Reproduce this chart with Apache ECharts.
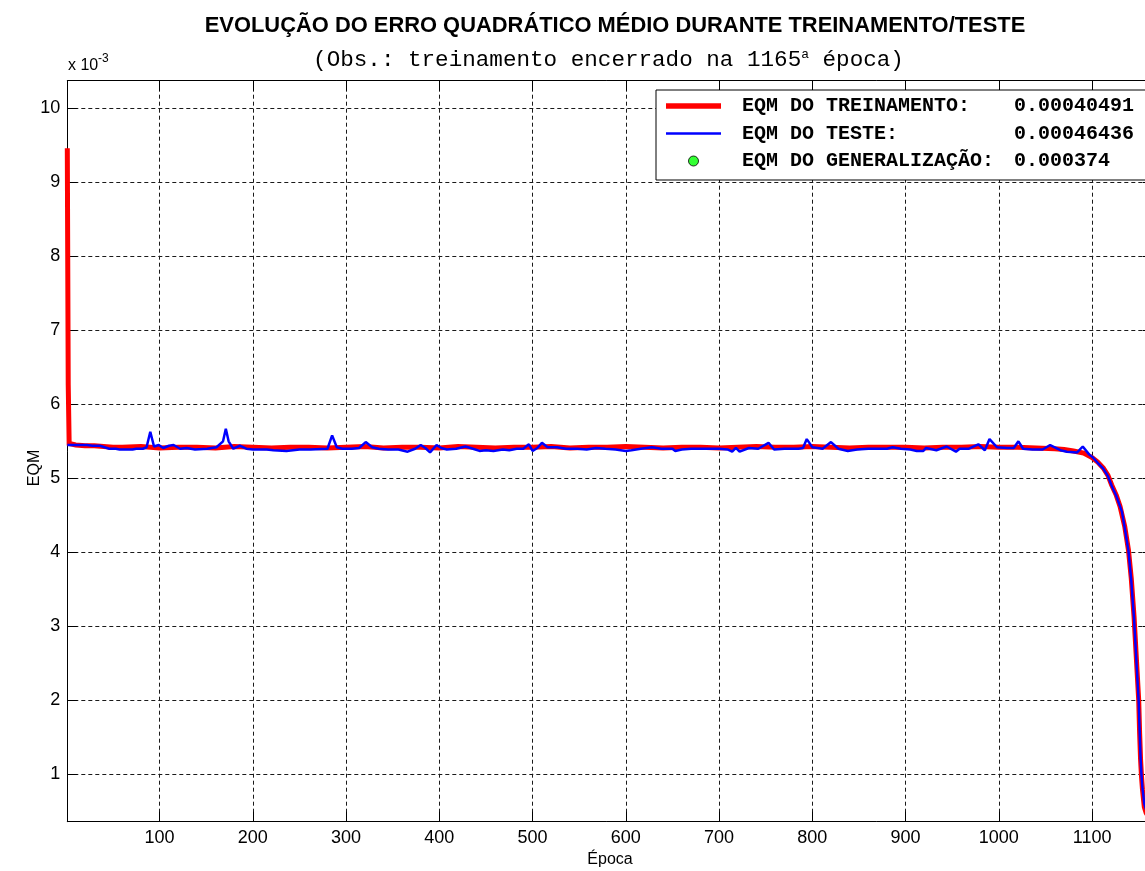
<!DOCTYPE html>
<html>
<head>
<meta charset="utf-8">
<title>Evolução do EQM</title>
<script src="https://cdn.jsdelivr.net/npm/echarts@6/dist/echarts.min.js"></script>
<style>
  html, body { margin: 0; padding: 0; background: #ffffff; overflow: hidden; }
  #chart { width: 1145px; height: 871px; }
</style>
</head>
<body>
<div id="chart"></div>
<script>
// Valores de EQM em unidades de 10^-3 (o eixo mostra "x 10^-3").
const epocaFinal = 1165;

const epocasTreino = [
  1, 2, 3, 5, 10, 20, 30, 40, 50,
  60, 80, 100, 120, 140, 160, 180, 200, 220, 240, 260, 280, 300, 320, 340, 360, 380, 400,
  420, 440, 460, 480, 500, 520, 540, 560, 580, 600, 620, 640, 660, 680, 700, 720, 740, 760,
  780, 800, 820, 840, 860, 880, 900, 920, 940, 960, 980, 1000, 1020, 1040, 1060,
  1070, 1080, 1091, 1100, 1106, 1112, 1117, 1121, 1126, 1130, 1135, 1139, 1142, 1145, 1148,
  1150, 1151, 1152, 1153, 1154, 1156, 1158, 1160, 1165
];
const eqmTreino = [
  9.46, 6.26, 5.47, 5.46, 5.45, 5.44, 5.44, 5.43, 5.42,
  5.42, 5.43, 5.41, 5.42, 5.42, 5.41, 5.43, 5.42, 5.41, 5.42, 5.42, 5.41, 5.42, 5.43, 5.41, 5.42, 5.42, 5.41,
  5.43, 5.42, 5.41, 5.42, 5.42, 5.43, 5.41, 5.42, 5.42, 5.43, 5.42, 5.41, 5.42, 5.42, 5.41, 5.42, 5.43, 5.42,
  5.42, 5.43, 5.42, 5.41, 5.42, 5.42, 5.42, 5.41, 5.42, 5.42, 5.43, 5.42, 5.42, 5.41, 5.40,
  5.39, 5.37, 5.34, 5.28, 5.22, 5.14, 5.04, 4.91, 4.77, 4.62, 4.35, 4.03, 3.65, 3.13, 2.45,
  2.00, 1.55, 1.20, 0.97, 0.80, 0.56, 0.48, 0.44, 0.40491
];

const epocasTeste = [
  1, 10, 22, 28, 36, 46, 53, 57, 71, 75, 82, 86, 90, 94, 99, 104, 110, 115, 122, 129,
  138, 151, 161, 168, 171, 174, 179, 186, 193, 200, 215, 222, 236, 250, 262, 280, 285, 290, 296, 306,
  314, 321, 328, 335, 345, 356, 366, 374, 380, 385, 390, 397, 402, 408, 418, 428, 436, 443, 450, 458,
  468, 475, 483, 490, 496, 500, 505, 510, 516, 526, 536, 548, 558, 568, 578, 589, 600, 606, 616, 628,
  638, 650, 653, 660, 670, 680, 700, 709, 714, 718, 722, 732, 742, 753, 759, 770, 785, 790, 794, 800,
  811, 820, 828, 838, 848, 860, 880, 886, 895, 905, 912, 919, 922, 933, 944, 954, 958, 968, 978, 985,
  990, 998, 1009, 1016, 1021, 1026, 1036, 1047, 1055, 1066, 1073, 1084, 1090, 1097, 1101, 1106, 1112, 1117, 1121, 1126,
  1130, 1132, 1135, 1139, 1142, 1145, 1148, 1150, 1151, 1152, 1153, 1154, 1156, 1158, 1160, 1165
];
const eqmTeste = [
  5.45, 5.45, 5.45, 5.44, 5.44, 5.40, 5.40, 5.39, 5.39, 5.40, 5.40, 5.42, 5.63, 5.43, 5.45, 5.41, 5.44, 5.45, 5.40, 5.41,
  5.39, 5.40, 5.42, 5.50, 5.67, 5.50, 5.40, 5.44, 5.40, 5.39, 5.39, 5.38, 5.37, 5.39, 5.39, 5.40, 5.58, 5.42, 5.40, 5.40,
  5.41, 5.49, 5.42, 5.40, 5.39, 5.39, 5.36, 5.40, 5.45, 5.41, 5.35, 5.45, 5.41, 5.39, 5.40, 5.43, 5.40, 5.37, 5.38, 5.37,
  5.39, 5.38, 5.40, 5.40, 5.46, 5.37, 5.41, 5.48, 5.42, 5.42, 5.40, 5.40, 5.39, 5.41, 5.40, 5.39, 5.37, 5.38, 5.40, 5.42,
  5.40, 5.40, 5.37, 5.39, 5.40, 5.40, 5.40, 5.39, 5.36, 5.41, 5.36, 5.41, 5.40, 5.48, 5.39, 5.40, 5.40, 5.41, 5.53, 5.42,
  5.40, 5.49, 5.40, 5.37, 5.39, 5.40, 5.40, 5.42, 5.40, 5.39, 5.37, 5.37, 5.41, 5.38, 5.43, 5.36, 5.40, 5.40, 5.46, 5.38,
  5.53, 5.42, 5.41, 5.41, 5.50, 5.40, 5.39, 5.39, 5.45, 5.38, 5.36, 5.35, 5.43, 5.32, 5.28, 5.21, 5.13, 5.03, 4.90, 4.76,
  4.62, 4.55, 4.33, 4.02, 3.62, 3.10, 2.42, 1.98, 1.58, 1.22, 0.98, 0.82, 0.60, 0.52, 0.49, 0.46436
];

const epocaGeneralizacao = [1165];
const eqmGeneralizacao = [0.374];

const nomeTreino = 'EQM DO TREINAMENTO:';
const nomeTeste = 'EQM DO TESTE:';
const nomeGeneralizacao = 'EQM DO GENERALIZAÇÃO:';

const ESCALA = 1e-3;
const SANS = "'Liberation Sans Narrow', 'Liberation Sans', Arial, sans-serif";
const SANS_REG = "'Liberation Sans', Arial, sans-serif";
const MONO = "'Liberation Mono', 'Courier New', monospace";

function pares(xs, ys) {
  return xs.map((x, i) => [x, ys[i]]);
}

const ultimo = (arr) => arr[arr.length - 1];
const valoresLegenda = {};
valoresLegenda[nomeTreino] = (ultimo(eqmTreino) * ESCALA).toFixed(8);
valoresLegenda[nomeTeste] = (ultimo(eqmTeste) * ESCALA).toFixed(8);
valoresLegenda[nomeGeneralizacao] = String(+(eqmGeneralizacao[0] * ESCALA).toPrecision(3));

const gridStyle = { color: '#1a1a1a', width: 1, type: [4, 3] };
const rotuloNumero = (v) => String(Math.round(v));

const chart = echarts.init(document.getElementById('chart'), null, { renderer: 'canvas' });

// A área dos eixos vai até a época 1165, um pouco além da borda direita da janela.
chart.setOption({
  animation: false,
  backgroundColor: '#ffffff',
  grid: {
    left: 67.3, top: 80.7, width: 1085.4, height: 741,
    containLabel: false, outerBoundsMode: 'none'
  },
  xAxis: [
    {
      type: 'value',
      min: 1,
      max: epocaFinal,
      minInterval: 100,
      maxInterval: 100,
      name: 'Época',
      nameLocation: 'middle',
      nameGap: 28,
      nameTextStyle: { fontFamily: SANS_REG, fontSize: 16, color: '#000' },
      axisLine: { show: true, onZero: false, lineStyle: { color: '#000', width: 1 } },
      axisTick: { show: true, inside: true, length: 10, lineStyle: { color: '#000' } },
      axisLabel: {
        show: true, margin: 7, color: '#000', fontFamily: SANS, fontSize: 18,
        showMinLabel: false, showMaxLabel: false, formatter: rotuloNumero
      },
      splitLine: { show: true, lineStyle: gridStyle }
    },
    {
      type: 'value',
      position: 'top',
      min: 1,
      max: epocaFinal,
      minInterval: 100,
      maxInterval: 100,
      axisLine: { show: true, onZero: false, lineStyle: { color: '#000', width: 1 } },
      axisTick: { show: true, inside: true, length: 10, lineStyle: { color: '#000' } },
      axisLabel: { show: false },
      splitLine: { show: false }
    }
  ],
  yAxis: [
    {
      type: 'value',
      min: 0.36,
      max: 10.373,
      splitNumber: 10,
      minInterval: 1,
      maxInterval: 1,
      axisLine: { show: true, onZero: false, lineStyle: { color: '#000', width: 1 } },
      axisTick: { show: true, inside: true, length: 10, lineStyle: { color: '#000' } },
      axisLabel: {
        show: true, margin: 7, color: '#000', fontFamily: SANS, fontSize: 18,
        showMinLabel: false, showMaxLabel: false, formatter: rotuloNumero
      },
      splitLine: { show: true, lineStyle: gridStyle }
    },
    {
      type: 'value',
      position: 'right',
      min: 0.36,
      max: 10.373,
      splitNumber: 10,
      minInterval: 1,
      maxInterval: 1,
      axisLine: { show: true, onZero: false, lineStyle: { color: '#000', width: 1 } },
      axisTick: { show: true, inside: true, length: 10, lineStyle: { color: '#000' } },
      axisLabel: { show: false },
      splitLine: { show: false }
    }
  ],
  legend: {
    orient: 'vertical',
    left: 656,
    top: 90,
    itemWidth: 55,
    itemHeight: 10,
    itemGap: 7.5,
    padding: [6, 24, 9, 10],
    backgroundColor: '#ffffff',
    borderColor: '#000000',
    borderWidth: 1,
    borderRadius: 0,
    selectedMode: false,
    textStyle: {
      color: '#000',
      fontFamily: MONO,
      fontWeight: 'bold',
      fontSize: 20,
      lineHeight: 20,
      rich: {
        g: { width: 16, fontSize: 20, fontFamily: MONO },
        n: { width: 272, fontSize: 20, fontFamily: MONO, fontWeight: 'bold', color: '#000' },
        v: { fontSize: 20, fontFamily: MONO, fontWeight: 'bold', color: '#000' }
      }
    },
    formatter: (name) => '{g| }{n|' + name + '}{v|' + valoresLegenda[name] + '}',
    data: [
      { name: nomeTreino, icon: 'path://M0 0H55V5.5H0Z', itemStyle: { color: '#ff0000', borderWidth: 0 } },
      { name: nomeTeste, icon: 'path://M0 0H55V2.5H0Z', itemStyle: { color: '#0000ff', borderWidth: 0 } },
      { name: nomeGeneralizacao, icon: 'circle', itemStyle: { color: '#00ff00', borderColor: '#000000', borderWidth: 1 } }
    ]
  },
  graphic: [
    {
      type: 'text', x: 615, y: 26, silent: true,
      style: {
        text: 'EVOLUÇÃO DO ERRO QUADRÁTICO MÉDIO DURANTE TREINAMENTO/TESTE',
        fontFamily: SANS_REG, fontWeight: 'bold', fontSize: 21.9, fill: '#000',
        align: 'center', verticalAlign: 'middle', textAlign: 'center', textVerticalAlign: 'middle'
      }
    },
    {
      type: 'text', x: 608.5, y: 60, silent: true,
      style: {
        text: '{n|(Obs.: treinamento encerrado na ' + epocaFinal + '}{s|a}{n| época)}',
        align: 'center', verticalAlign: 'middle', textAlign: 'center', textVerticalAlign: 'middle',
        rich: {
          n: { fontFamily: MONO, fontSize: 22.6, lineHeight: 24, fill: '#000', color: '#000' },
          s: { fontFamily: MONO, fontSize: 13, lineHeight: 10, verticalAlign: 'top', fill: '#000', color: '#000' }
        }
      }
    },
    {
      type: 'text', x: 68, y: 66, silent: true,
      style: {
        text: 'x 10', fontFamily: SANS_REG, fontSize: 16, fill: '#000',
        align: 'left', verticalAlign: 'middle', textAlign: 'left', textVerticalAlign: 'middle'
      }
    },
    {
      type: 'text', x: 98, y: 59, silent: true,
      style: {
        text: '-3', fontFamily: SANS_REG, fontSize: 12, fill: '#000',
        align: 'left', verticalAlign: 'middle', textAlign: 'left', textVerticalAlign: 'middle'
      }
    },
    {
      type: 'text', x: 35, y: 468, rotation: Math.PI / 2, silent: true,
      style: {
        text: 'EQM', fontFamily: SANS_REG, fontSize: 16, fill: '#000',
        align: 'center', verticalAlign: 'middle', textAlign: 'center', textVerticalAlign: 'middle'
      }
    }
  ],
  series: [
    {
      name: nomeTreino,
      type: 'line',
      xAxisIndex: 0,
      yAxisIndex: 0,
      data: pares(epocasTreino, eqmTreino),
      showSymbol: false,
      symbol: 'none',
      clip: true,
      lineStyle: { color: '#ff0000', width: 5, join: 'miter' },
      itemStyle: { color: '#ff0000' },
      z: 2
    },
    {
      name: nomeTeste,
      type: 'line',
      xAxisIndex: 0,
      yAxisIndex: 0,
      data: pares(epocasTeste, eqmTeste),
      showSymbol: false,
      symbol: 'none',
      clip: true,
      lineStyle: { color: '#0000ff', width: 2.5 },
      itemStyle: { color: '#0000ff' },
      z: 3
    },
    {
      name: nomeGeneralizacao,
      type: 'scatter',
      xAxisIndex: 0,
      yAxisIndex: 0,
      data: pares(epocaGeneralizacao, eqmGeneralizacao),
      symbolSize: 10,
      itemStyle: { color: '#00ff00', borderColor: '#000000', borderWidth: 1 },
      z: 4
    }
  ]
});
</script>
</body>
</html>
